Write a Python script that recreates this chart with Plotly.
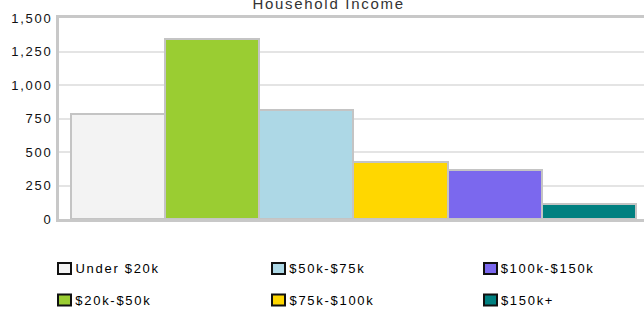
import plotly.graph_objects as go

# ---- data ----
categories = ["Under $20k", "$20k-$50k", "$50k-$75k", "$75k-$100k", "$100k-$150k", "$150k+"]
values = [780, 1340, 810, 425, 362, 110]
colors = ["#f3f3f3", "#9acd32", "#add8e6", "#ffd700", "#7b68ee", "#008080"]
y_ticks = [0, 250, 500, 750, 1000, 1250, 1500]
title_text = "Household Income"

# ---- geometry (pixels) ----
W, H = 644, 317
L, R, T, B = 59, 0, 18, 98
PW, PH = W - L - R, H - T - B
LS = 1.7  # letter spacing in px


def px2x(px):
    return (px - L) / PW


def px2y(py):
    return (H - B - py) / PH


FONT = "Liberation Sans, Arial, sans-serif"

fig = go.Figure()
for cat, val, col in zip(categories, values, colors):
    fig.add_trace(go.Bar(
        x=[cat], y=[val], name=cat,
        marker=dict(color=col, line=dict(color="#c4c4c4", width=2)),
        showlegend=False,
    ))

# manual legend: 3 columns, column-major order
col_left = [57, 271, 483]
row_center = [268.5, 300]
shapes = []
annotations = []
for i, (cat, col) in enumerate(zip(categories, colors)):
    c, r = divmod(i, 2)
    x0 = col_left[c]
    yc = row_center[r]
    shapes.append(dict(
        type="rect", xref="paper", yref="paper",
        x0=px2x(x0 + 1), x1=px2x(x0 + 14), y0=px2y(yc - 5.5), y1=px2y(yc + 5.5),
        line=dict(color="#111111", width=2), fillcolor=col,
    ))
    annotations.append(dict(
        text=cat, xref="paper", yref="paper",
        x=px2x(x0 + 16 + len(cat) * LS / 2), y=px2y(yc),
        xanchor="left", yanchor="middle", showarrow=False,
        font=dict(family=FONT, size=13, color="#000000"),
    ))

annotations.append(dict(
    text=title_text, xref="paper", yref="paper", x=px2x(328), y=px2y(3),
    xanchor="center", yanchor="middle", showarrow=False,
    font=dict(family=FONT, size=15, color="#333333"),
))

fig.update_layout(
    width=W, height=H,
    margin=dict(l=L, r=R, t=T, b=B, pad=0),
    paper_bgcolor="white", plot_bgcolor="white",
    barmode="overlay", bargap=0,
    showlegend=False,
    shapes=shapes, annotations=annotations,
    font=dict(family=FONT, size=13, color="#111111"),
    xaxis=dict(
        type="category", range=[-0.622, 5.58], showticklabels=False,
        showgrid=False, zeroline=False, showline=True, linecolor="#c8c8c8",
        linewidth=3, mirror=True, fixedrange=True,
    ),
    yaxis=dict(
        range=[0, 1500], tickvals=y_ticks, tickformat=",",
        showgrid=True, gridcolor="#e4e4e4", gridwidth=2,
        zeroline=False, showline=True, linecolor="#c8c8c8", linewidth=3,
        ticks="outside", ticklen=0, ticklabelstandoff=1, fixedrange=True,
        tickfont=dict(family=FONT, size=13, color="#111111"),
    ),
)

post = """
document.body.style.margin = '0';
document.body.style.overflow = 'hidden';
document.querySelectorAll('.main-svg text').forEach(function(t){
  t.style.letterSpacing = '%spx';
});
""" % LS

fig.write_html("out.html", config={"displayModeBar": False}, post_script=post)
